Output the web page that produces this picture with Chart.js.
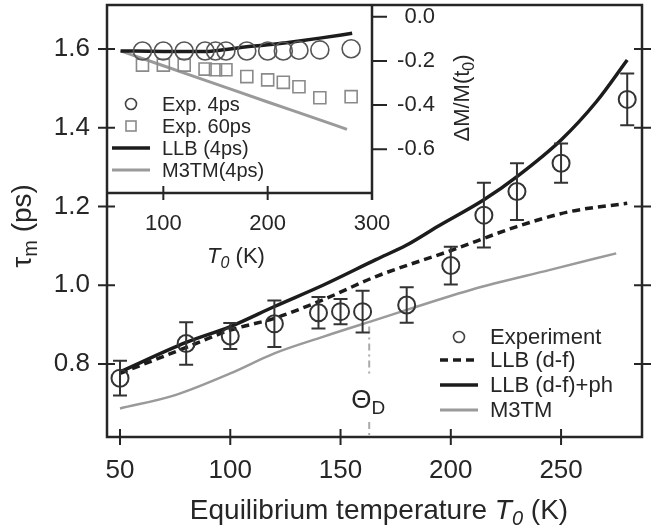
<!DOCTYPE html>
<html>
<head>
<meta charset="utf-8">
<script src="https://cdn.jsdelivr.net/npm/chart.js@4"></script>
<style>
  html, body { margin: 0; padding: 0; background: #fff; }
  #wrap { position: relative; width: 664px; height: 531px; }
  canvas { position: absolute; left: 0; top: 0; }
</style>
</head>
<body>
<div id="wrap">
  <canvas id="mainChart" width="664" height="531"></canvas>
  <canvas id="insetChart" width="500" height="280"></canvas>
</div>
<script>
/* ===== MAIN PANEL DATA ===== */
const tempK  = [50, 80, 100, 120, 140, 150, 160, 180, 200, 215, 230, 250, 280];
const tauExp = [0.764, 0.852, 0.871, 0.902, 0.930, 0.933, 0.933, 0.950, 1.050, 1.178, 1.238, 1.310, 1.472];
const tauErr = [0.044, 0.054, 0.033, 0.059, 0.040, 0.032, 0.053, 0.045, 0.048, 0.082, 0.072, 0.050, 0.066];

const llbT   = [50, 80, 100, 120, 142, 166, 200, 230, 254, 280];
const llbTau = [0.776, 0.842, 0.886, 0.916, 0.963, 1.022, 1.088, 1.149, 1.187, 1.208];

const llbPhT   = [50, 80, 100, 120, 142, 166, 180, 194, 215, 230, 250, 266, 280];
const llbPhTau = [0.780, 0.855, 0.895, 0.946, 1.000, 1.065, 1.102, 1.149, 1.217, 1.276, 1.369, 1.466, 1.572];

const m3tmT   = [50, 75, 100, 120, 142, 166, 209, 245, 275];
const m3tmTau = [0.687, 0.721, 0.776, 0.827, 0.869, 0.912, 0.988, 1.039, 1.081];

const thetaD = 163;
const thetaTau = [0.895, 0.768, null, 0.653, 0.6146];

const mainXTicks = [50, 100, 150, 200, 250];
const mainYTicks = [0.8, 1.0, 1.2, 1.4, 1.6];

/* ===== INSET DATA ===== */
const insetT = [80, 100, 120, 140, 150, 160, 180, 200, 215, 230, 250, 280];
const dm4ps  = [-0.155, -0.155, -0.155, -0.155, -0.155, -0.155, -0.155, -0.155, -0.155, -0.152, -0.150, -0.145];
const dm60ps = [-0.219, -0.219, -0.219, -0.237, -0.240, -0.240, -0.271, -0.286, -0.297, -0.317, -0.367, -0.362];

const llb4T  = [59, 100, 140, 160, 180, 200, 225, 250, 281];
const llb4Dm = [-0.155, -0.157, -0.158, -0.148, -0.136, -0.127, -0.113, -0.097, -0.075];

const m3tm4T  = [59, 100, 150, 200, 250, 276];
const m3tm4Dm = [-0.155, -0.222, -0.304, -0.386, -0.467, -0.510];

const insetXTicks = [100, 200, 300];
const insetYTicks = [0, -0.2, -0.4, -0.6];

/* ===== STYLE ===== */
const FONT = '"Liberation Sans", Arial, sans-serif';
const INK = "#262626";
const BLACK = "#1c1c1c";
const GREY = "#9a9a9a";

Chart.defaults.font.family = FONT;
Chart.defaults.color = INK;

const pts = (xs, ys) => xs.map((x, i) => ({ x, y: ys[i] }));

// fixed axis boxes, no label overhang padding
const fixH = h => s => { s.height = h; s.paddingLeft = 0; s.paddingRight = 0; };
const fixW = w => s => { s.width = w; s.paddingTop = 0; s.paddingBottom = 0; };

function richText(ctx, parts, x, y, align) {
  // parts: [text, size, style, dy]
  const f = p => `${p[2] || ""} ${p[1]}px ${FONT}`;
  let w = 0;
  parts.forEach(p => { ctx.font = f(p); w += ctx.measureText(p[0]).width; });
  let cx = align === "center" ? x - w / 2 : x;
  ctx.textAlign = "left";
  ctx.textBaseline = "alphabetic";
  parts.forEach(p => {
    ctx.font = f(p);
    ctx.fillText(p[0], cx, y + (p[3] || 0));
    cx += ctx.measureText(p[0]).width;
  });
}

function legendRow(ctx, kind, x, y, label, size) {
  ctx.save();
  if (kind === "circle") {
    ctx.strokeStyle = "#444"; ctx.lineWidth = 1.6;
    ctx.beginPath(); ctx.arc(x + 19, y, 5.5, 0, Math.PI * 2); ctx.stroke();
  } else if (kind === "square") {
    ctx.strokeStyle = "#8a8a8a"; ctx.lineWidth = 1.6;
    ctx.strokeRect(x + 14, y - 5, 10, 10);
  } else {
    ctx.strokeStyle = kind.color; ctx.lineWidth = kind.width;
    ctx.setLineDash(kind.dash || []);
    ctx.beginPath(); ctx.moveTo(x, y); ctx.lineTo(x + 38, y); ctx.stroke();
  }
  ctx.restore();
  ctx.fillStyle = INK;
  ctx.font = `${size}px ${FONT}`;
  ctx.textAlign = "left";
  ctx.textBaseline = "middle";
  ctx.fillText(label, x + 50, y + 1);
}

/* ===== MAIN CHART ===== */
const mainDecor = {
  id: "mainDecor",
  afterDatasetsDraw(chart) {
    const { ctx, chartArea: a, scales: { x, y } } = chart;
    ctx.save();
    // error bars
    ctx.strokeStyle = "#333"; ctx.lineWidth = 2;
    ctx.beginPath();
    tempK.forEach((t, i) => {
      const px = x.getPixelForValue(t);
      const top = y.getPixelForValue(tauExp[i] + tauErr[i]);
      const bot = y.getPixelForValue(tauExp[i] - tauErr[i]);
      ctx.moveTo(px, top); ctx.lineTo(px, bot);
      ctx.moveTo(px - 7, top); ctx.lineTo(px + 7, top);
      ctx.moveTo(px - 7, bot); ctx.lineTo(px + 7, bot);
    });
    ctx.stroke();

    // frame + crossing ticks
    ctx.strokeStyle = INK; ctx.lineWidth = 2.5;
    ctx.strokeRect(a.left, a.top, a.right - a.left, a.bottom - a.top);
    ctx.lineWidth = 2;
    ctx.beginPath();
    mainXTicks.forEach(v => {
      const px = x.getPixelForValue(v);
      ctx.moveTo(px, a.bottom - 8); ctx.lineTo(px, a.bottom + 8);
    });
    mainYTicks.forEach(v => {
      const py = y.getPixelForValue(v);
      ctx.moveTo(a.left - 9, py); ctx.lineTo(a.left + 8, py);
      ctx.moveTo(a.right - 8, py); ctx.lineTo(a.right + 9, py);
    });
    ctx.stroke();

    // Theta_D label
    ctx.fillStyle = INK;
    const tx = x.getPixelForValue(thetaD);
    richText(ctx, [["\u0398", 26], ["D", 19, "", 6]], tx - 18, 408, "left");

    // legend
    legendRow(ctx, "circle", 440, 337, "Experiment", 22);
    legendRow(ctx, { color: BLACK, width: 3.5, dash: [8, 5] }, 440, 360, "LLB (d-f)", 22);
    legendRow(ctx, { color: BLACK, width: 3.5 }, 440, 385, "LLB (d-f)+ph", 22);
    legendRow(ctx, { color: GREY, width: 3 }, 440, 410, "M3TM", 22);

    // axis titles
    ctx.fillStyle = INK;
    richText(ctx, [["Equilibrium temperature ", 28], ["T", 28, "italic"], ["0", 20, "italic", 6], [" (K)", 28]], 379, 519, "center");
    ctx.save();
    ctx.translate(31, 226);
    ctx.rotate(-Math.PI / 2);
    richText(ctx, [["\u03C4", 28], ["m", 20, "", 6], [" (ps)", 28]], 0, 0, "center");
    ctx.restore();
    ctx.restore();
  }
};

new Chart(document.getElementById("mainChart"), {
  type: "scatter",
  data: {
    datasets: [
      {
        label: "Experiment", data: pts(tempK, tauExp),
        pointStyle: "circle", pointRadius: 8.5, pointBorderWidth: 2,
        borderColor: "#333", backgroundColor: "rgba(0,0,0,0)"
      },
      {
        label: "LLB (d-f)", data: pts(llbT, llbTau), showLine: true,
        borderColor: BLACK, borderWidth: 3.5, borderDash: [8, 5], pointRadius: 0,
        cubicInterpolationMode: "monotone"
      },
      {
        label: "LLB (d-f)+ph", data: pts(llbPhT, llbPhTau), showLine: true,
        borderColor: BLACK, borderWidth: 3.5, pointRadius: 0,
        cubicInterpolationMode: "monotone"
      },
      {
        label: "M3TM", data: pts(m3tmT, m3tmTau), showLine: true,
        borderColor: GREY, borderWidth: 2.5, pointRadius: 0,
        cubicInterpolationMode: "monotone"
      },
      {
        label: "ThetaD", data: thetaTau.map(v => ({ x: thetaD, y: v })), showLine: true,
        borderColor: "#aaa", borderWidth: 2, borderDash: [7, 4, 2, 4], pointRadius: 0,
        spanGaps: false
      }
    ]
  },
  options: {
    responsive: false, animation: false, devicePixelRatio: 1, events: [],
    layout: { padding: { top: 5, right: 22, left: 0, bottom: 0 }, autoPadding: false },
    plugins: { legend: { display: false }, tooltip: { enabled: false } },
    scales: {
      x: {
        type: "linear", min: 44.1, max: 286.7,
        afterBuildTicks: s => { s.ticks = mainXTicks.map(v => ({ value: v })); },
        afterFit: fixH(94),
        grid: { display: false, drawTicks: false }, border: { display: false },
        ticks: { font: { size: 26 }, color: INK, padding: 18, maxRotation: 0, autoSkip: false }
      },
      y: {
        type: "linear", min: 0.6146, max: 1.7117,
        afterBuildTicks: s => { s.ticks = mainYTicks.map(v => ({ value: v })); },
        afterFit: fixW(107),
        grid: { display: false, drawTicks: false }, border: { display: false },
        ticks: { font: { size: 26 }, color: INK, padding: 17, autoSkip: false, callback: v => v.toFixed(1) }
      }
    }
  },
  plugins: [mainDecor]
});

/* ===== INSET CHART ===== */
const insetDecor = {
  id: "insetDecor",
  afterDatasetsDraw(chart) {
    const { ctx, chartArea: a, scales: { x, y } } = chart;
    ctx.save();
    ctx.strokeStyle = INK; ctx.lineWidth = 2.5;
    ctx.beginPath();
    ctx.moveTo(a.left, a.bottom); ctx.lineTo(a.right, a.bottom);
    ctx.moveTo(a.right, a.top); ctx.lineTo(a.right, a.bottom + 7);
    ctx.stroke();
    ctx.lineWidth = 2;
    ctx.beginPath();
    insetXTicks.forEach(v => {
      const px = x.getPixelForValue(v);
      ctx.moveTo(px, a.bottom - 7); ctx.lineTo(px, a.bottom + 7);
    });
    insetYTicks.forEach(v => {
      const py = y.getPixelForValue(v);
      ctx.moveTo(a.right, py); ctx.lineTo(a.right + 15, py);
    });
    ctx.stroke();

    legendRow(ctx, "circle", 112, 104, "Exp. 4ps", 20);
    legendRow(ctx, "square", 112, 126, "Exp. 60ps", 20);
    legendRow(ctx, { color: BLACK, width: 3.5 }, 112, 148, "LLB (4ps)", 20);
    legendRow(ctx, { color: GREY, width: 3 }, 112, 170, "M3TM(4ps)", 20);

    ctx.fillStyle = INK;
    richText(ctx, [["T", 22, "italic"], ["0", 16, "italic", 5], [" (K)", 22]], 236, 263, "center");
    ctx.save();
    ctx.translate(469, 98);
    ctx.rotate(-Math.PI / 2);
    richText(ctx, [["\u0394M/M(t", 22], ["0", 16, "", 5], [")", 22]], 0, 0, "center");
    ctx.restore();
    ctx.restore();
  }
};

new Chart(document.getElementById("insetChart"), {
  type: "scatter",
  data: {
    datasets: [
      {
        label: "Exp. 4ps", data: pts(insetT, dm4ps),
        pointStyle: "circle", pointRadius: 9, pointBorderWidth: 1.6,
        borderColor: "#555", backgroundColor: "rgba(0,0,0,0)"
      },
      {
        label: "Exp. 60ps", data: pts(insetT, dm60ps),
        pointStyle: "rect", pointRadius: 8.5, pointBorderWidth: 1.6,
        borderColor: "#8a8a8a", backgroundColor: "rgba(0,0,0,0)"
      },
      {
        label: "LLB (4ps)", data: pts(llb4T, llb4Dm), showLine: true,
        borderColor: BLACK, borderWidth: 3.5, pointRadius: 0,
        cubicInterpolationMode: "monotone"
      },
      {
        label: "M3TM(4ps)", data: pts(m3tm4T, m3tm4Dm), showLine: true,
        borderColor: GREY, borderWidth: 3, pointRadius: 0,
        cubicInterpolationMode: "monotone"
      }
    ]
  },
  options: {
    responsive: false, animation: false, devicePixelRatio: 1, events: [],
    layout: { padding: { top: 5, right: 65, left: 107, bottom: 0 }, autoPadding: false },
    plugins: { legend: { display: false }, tooltip: { enabled: false } },
    scales: {
      x: {
        type: "linear", min: 46, max: 300,
        afterBuildTicks: s => { s.ticks = insetXTicks.map(v => ({ value: v })); },
        afterFit: fixH(87),
        grid: { display: false, drawTicks: false }, border: { display: false },
        ticks: { font: { size: 22 }, color: INK, padding: 18, maxRotation: 0, autoSkip: false }
      },
      y: {
        type: "linear", position: "right", min: -0.798, max: 0.053,
        afterBuildTicks: s => { s.ticks = insetYTicks.map(v => ({ value: v })); },
        afterFit: fixW(63),
        grid: { display: false, drawTicks: false }, border: { display: false },
        ticks: { font: { size: 22 }, color: INK, padding: 25, crossAlign: "far", autoSkip: false,
                 callback: v => v.toFixed(1) }
      }
    }
  },
  plugins: [insetDecor]
});
</script>
</body>
</html>
